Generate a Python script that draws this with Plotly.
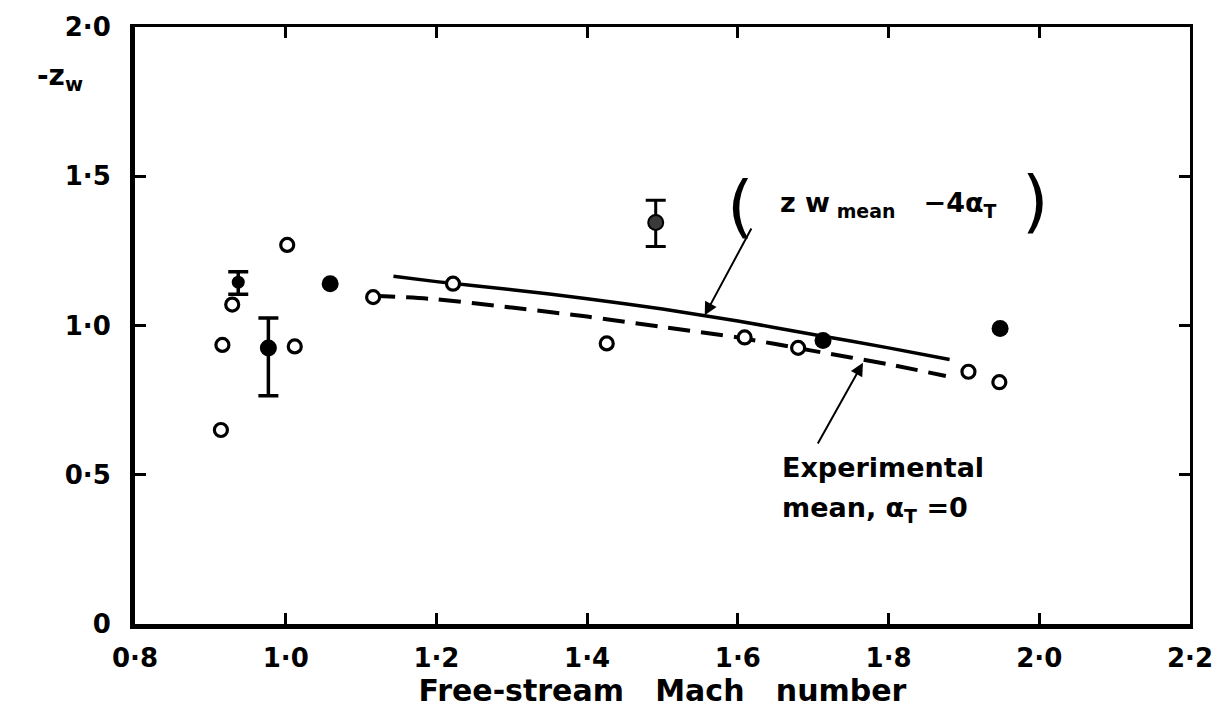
import plotly.graph_objects as go

# Open-circle test points
open_mach = [0.914, 0.916, 0.929, 1.002, 1.012, 1.116, 1.222, 1.426, 1.609, 1.680, 1.906, 1.947]
open_zw = [0.650, 0.935, 1.070, 1.270, 0.930, 1.095, 1.140, 0.940, 0.960, 0.925, 0.845, 0.810]

# Solid points
solid_mach = [1.059, 1.713, 1.948]
solid_zw = [1.140, 0.950, 0.990]

# Solid points with scatter bands
band_mach = [0.937, 0.977]
band_zw = [1.145, 0.925]
band_err_up = [0.035, 0.100]
band_err_down = [0.040, 0.160]
band_size = [13, 17]

# Shaded point with scatter band
shaded_mach = [1.491]
shaded_zw = [1.345]
shaded_err_up = [0.075]
shaded_err_down = [0.080]

# Curve: zw mean - 4 alpha_T
curve_mach = [1.143, 1.20, 1.30, 1.40, 1.50, 1.60, 1.70, 1.80, 1.881]
curve_zw = [1.165, 1.147, 1.120, 1.090, 1.055, 1.015, 0.970, 0.925, 0.886]

# Experimental mean, alpha_T = 0
mean_mach = [1.116, 1.20, 1.30, 1.40, 1.50, 1.60, 1.70, 1.80, 1.876]
mean_zw = [1.100, 1.088, 1.060, 1.030, 0.995, 0.960, 0.915, 0.870, 0.831]

x_ticks = [0.8, 1.0, 1.2, 1.4, 1.6, 1.8, 2.0, 2.2]
x_ticktext = ["0·8", "1·0", "1·2", "1·4", "1·6", "1·8", "2·0", "2·2"]
y_ticks = [0, 0.5, 1.0, 1.5, 2.0]
y_ticktext = ["0", "0·5", "1·0", "1·5", "2·0"]

FONT = "DejaVu Sans"
INK = "black"

fig = go.Figure()

fig.add_trace(go.Scatter(
    x=curve_mach, y=curve_zw, mode="lines",
    line=dict(color=INK, width=3.5, shape="spline", smoothing=0.6),
    hoverinfo="skip", showlegend=False))

fig.add_trace(go.Scatter(
    x=mean_mach, y=mean_zw, mode="lines",
    line=dict(color=INK, width=4, dash="22px,11px", shape="spline", smoothing=0.6),
    hoverinfo="skip", showlegend=False))

fig.add_trace(go.Scatter(
    x=open_mach, y=open_zw, mode="markers",
    marker=dict(symbol="circle", size=13, color="white", opacity=1,
                line=dict(color=INK, width=3.2)),
    showlegend=False))

fig.add_trace(go.Scatter(
    x=solid_mach, y=solid_zw, mode="markers",
    marker=dict(symbol="circle", size=17, color=INK, opacity=1,
                line=dict(color=INK, width=0)),
    showlegend=False))

fig.add_trace(go.Scatter(
    x=band_mach, y=band_zw, mode="markers",
    marker=dict(symbol="circle", size=band_size, color=INK, opacity=1,
                line=dict(color=INK, width=0)),
    error_y=dict(type="data", symmetric=False, array=band_err_up,
                 arrayminus=band_err_down, color=INK, thickness=3.5, width=10),
    showlegend=False))

fig.add_trace(go.Scatter(
    x=shaded_mach, y=shaded_zw, mode="markers",
    marker=dict(symbol="circle", size=15, color="#3a3a3a", opacity=1,
                line=dict(color=INK, width=2)),
    error_y=dict(type="data", symmetric=False, array=shaded_err_up,
                 arrayminus=shaded_err_down, color=INK, thickness=3, width=10),
    showlegend=False))

# Invisible trace to carry the mirrored top/right axes
fig.add_trace(go.Scatter(x=[0.8, 2.2], y=[0, 2.0], xaxis="x2", yaxis="y2",
                         mode="markers", marker=dict(opacity=0),
                         hoverinfo="skip", showlegend=False))

tick_font = dict(family=FONT, size=26, color=INK, weight="bold")

fig.update_layout(
    width=1231, height=714,
    margin=dict(l=135, r=41, t=19, b=86),
    paper_bgcolor="white", plot_bgcolor="white",
    xaxis=dict(range=[0.8, 2.2], tickvals=x_ticks, ticktext=x_ticktext,
               showgrid=False, zeroline=False, showline=True, linecolor=INK,
               linewidth=5, ticks="inside", ticklen=11, tickwidth=2.5,
               tickcolor=INK, tickfont=tick_font, ticklabelstandoff=7,
               title=dict(text="Free-stream&nbsp;&nbsp; Mach&nbsp;&nbsp; number",
                          font=dict(family=FONT, size=30, color=INK, weight="bold"),
                          standoff=8)),
    yaxis=dict(range=[0, 2.0], tickvals=y_ticks, ticktext=y_ticktext,
               showgrid=False, zeroline=False, showline=True, linecolor=INK,
               linewidth=5, ticks="inside", ticklen=11, tickwidth=2.5,
               tickcolor=INK, tickfont=tick_font, ticklabelstandoff=14),
    xaxis2=dict(range=[0.8, 2.2], overlaying="x", side="top", tickvals=x_ticks,
                showticklabels=False, showgrid=False, zeroline=False,
                showline=True, linecolor=INK, linewidth=2.5, ticks="inside",
                ticklen=11, tickwidth=2.5, tickcolor=INK),
    yaxis2=dict(range=[0, 2.0], overlaying="y", side="right", tickvals=y_ticks,
                showticklabels=False, showgrid=False, zeroline=False,
                showline=True, linecolor=INK, linewidth=2.5, ticks="inside",
                ticklen=11, tickwidth=2.5, tickcolor=INK),
)

# Y-axis title
fig.add_annotation(xref="paper", yref="paper", x=-0.095, y=0.95,
                   text="-z<sub>w</sub>", showarrow=False,
                   font=dict(family=FONT, size=28, color=INK, weight="bold"))

# Curve label with brackets
fig.add_annotation(x=1.604, y=1.40, xref="x", yref="y", text="(", showarrow=False,
                   font=dict(family=FONT, size=68, color=INK))
fig.add_annotation(x=1.995, y=1.415, xref="x", yref="y", text=")", showarrow=False,
                   font=dict(family=FONT, size=68, color=INK))
fig.add_annotation(x=1.80, y=1.405, xref="x", yref="y",
                   text="z w<sub> mean</sub>&nbsp;&nbsp; −4α<sub>T</sub>",
                   showarrow=False,
                   font=dict(family=FONT, size=27, color=INK, weight="bold"))
fig.add_annotation(x=1.556, y=1.034, ax=1.619, ay=1.33, xref="x", yref="y",
                   axref="x", ayref="y", text="", showarrow=True,
                   arrowhead=2, arrowsize=1.3, arrowwidth=2, arrowcolor=INK)

# Mean-line label
fig.add_annotation(x=1.656, y=0.525, xref="x", yref="y", xanchor="left",
                   text="Experimental", showarrow=False,
                   font=dict(family=FONT, size=27, color=INK, weight="bold"))
fig.add_annotation(x=1.656, y=0.385, xref="x", yref="y", xanchor="left",
                   text="mean, α<sub>T</sub> =0", showarrow=False,
                   font=dict(family=FONT, size=27, color=INK, weight="bold"))
fig.add_annotation(x=1.766, y=0.875, ax=1.705, ay=0.60, xref="x", yref="y",
                   axref="x", ayref="y", text="", showarrow=True,
                   arrowhead=2, arrowsize=1.3, arrowwidth=2, arrowcolor=INK)

fig.write_html("out.html")
